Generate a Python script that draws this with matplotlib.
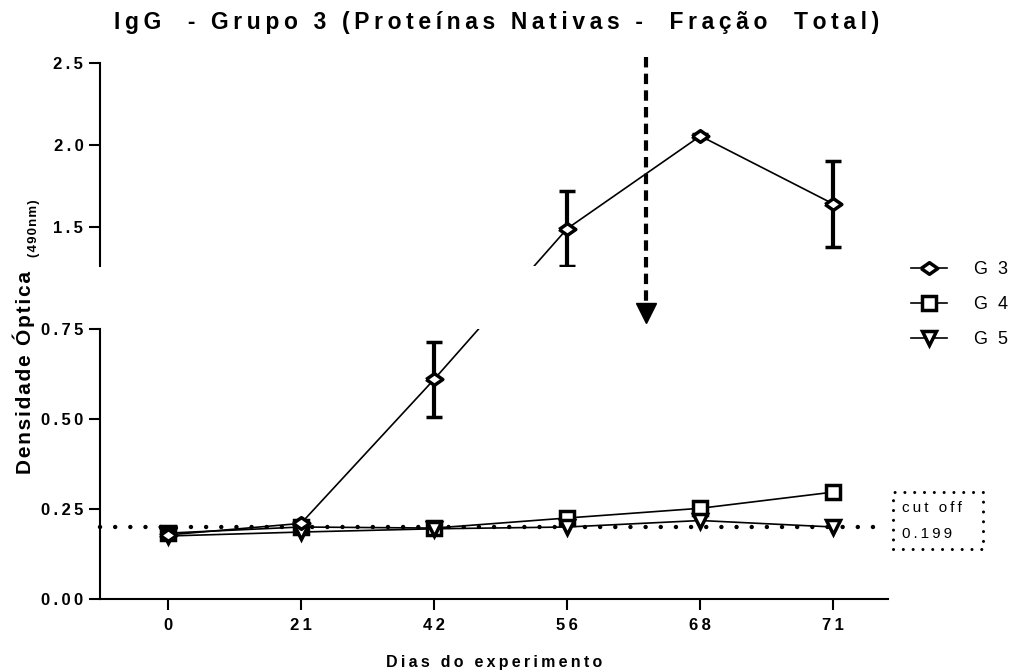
import numpy as np
import matplotlib
matplotlib.use("Agg")
import matplotlib.pyplot as plt
from matplotlib.ticker import FixedLocator, FuncFormatter
from matplotlib.lines import Line2D
from matplotlib.patches import Rectangle

plt.rcParams['font.family'] = ['Liberation Sans', 'DejaVu Sans']

# data
days = ['0', '21', '42', '56', '68', '71']
g3 = [0.178, 0.21, 0.61, 1.49, 2.055, 1.64]
g3_err = [0.0, 0.0, 0.105, 0.23, 0.01, 0.26]
g4 = [0.183, 0.20, 0.197, 0.225, 0.252, 0.297]
g5 = [0.175, 0.186, 0.195, 0.20, 0.218, 0.20]
cutoff = 0.199
arrow_x = 3.59   # between day 56 and day 68

THIN = '\u2009'
HAIR = '\u200a'


def sp(s, sep=THIN):
    # fake letter spacing
    return sep.join(s)


fig = plt.figure(figsize=(10.18, 6.71), dpi=100)
W, H = 1018, 671

def px_axes(x0, x1, ytop, ybot):
    return fig.add_axes([x0 / W, (H - ybot) / H, (x1 - x0) / W, (ybot - ytop) / H])

ax_hi = px_axes(100, 888, 63, 266)
ax_lo = px_axes(100, 888, 329, 599)

x = np.arange(len(days))
xlim = (-0.51, 5.41)
for ax in (ax_hi, ax_lo):
    ax.set_xlim(*xlim)
    ax.patch.set_alpha(0)
    for s in ('top', 'right'):
        ax.spines[s].set_visible(False)
    ax.spines['left'].set_linewidth(1.5)
    ax.tick_params(axis='y', direction='out', length=8, width=1.5, pad=4,
                   labelsize=12)

ax_hi.set_ylim(1.262, 2.5)
ax_lo.set_ylim(0, 0.75)
ax_hi.spines['bottom'].set_visible(False)
ax_hi.tick_params(axis='x', bottom=False, labelbottom=False)
ax_lo.spines['bottom'].set_linewidth(1.5)

ax_hi.yaxis.set_major_locator(FixedLocator([1.5, 2.0, 2.5]))
ax_lo.yaxis.set_major_locator(FixedLocator([0, 0.25, 0.5, 0.75]))
ax_hi.yaxis.set_major_formatter(FuncFormatter(lambda v, p: sp(f"{v:.1f}")))
ax_lo.yaxis.set_major_formatter(FuncFormatter(lambda v, p: sp(f"{v:.2f}")))
for ax in (ax_hi, ax_lo):
    for lab in ax.get_yticklabels():
        lab.set_fontweight('bold')

ax_lo.set_xticks(x)
ax_lo.set_xticklabels([sp(d) for d in days], fontweight='bold', fontsize=12)
ax_lo.tick_params(axis='x', direction='out', length=8, width=1.5, pad=6)

# cut off line
ax_lo.plot([xlim[0], 5.39], [cutoff, cutoff], color='black', lw=3.2,
           ls=(0, (0.01, 3.4)), dash_capstyle='round', zorder=1, clip_on=False)

mk = dict(color='black', lw=1.2, mfc='white', mew=2.5)
eb = dict(ecolor='black', elinewidth=3, capsize=6, capthick=3)
diamond = [(-1, 0), (0, 0.7), (1, 0), (0, -0.7), (-1, 0)]

# G4 / G5 in lower axis
ax_lo.plot(x, g4, marker='s', ms=10, **mk, zorder=3)
ax_lo.plot(x, g5, marker='v', ms=10, **mk, zorder=3)

# G3: split across the break, straight in screen space
lo_idx = [0, 1, 2]
hi_idx = [3, 4, 5]
p_lo = ax_lo.transData.transform((x[2], g3[2]))
p_hi = ax_hi.transData.transform((x[3], g3[3]))
hi_in_lo = ax_lo.transData.inverted().transform(p_hi)
lo_in_hi = ax_hi.transData.inverted().transform(p_lo)

ax_lo.plot([x[2], hi_in_lo[0]], [g3[2], hi_in_lo[1]], color='black', lw=1.2, zorder=2)
ax_hi.plot([lo_in_hi[0], x[3]], [lo_in_hi[1], g3[3]], color='black', lw=1.2, zorder=2)

ax_lo.errorbar(x[lo_idx], [g3[i] for i in lo_idx], yerr=[g3_err[i] for i in lo_idx],
               marker=diamond, ms=12, **mk, **eb, zorder=4)
ax_hi.errorbar(x[hi_idx], [g3[i] for i in hi_idx], yerr=[g3_err[i] for i in hi_idx],
               marker=diamond, ms=12, **mk, **eb, zorder=4)

# dashed arrow
ax_hi.plot([arrow_x, arrow_x], [2.537, 1.04], color='black', lw=3,
           ls=(0, (2.5, 1.5)), clip_on=False, zorder=5)
ax_hi.plot([arrow_x], [0.976], marker='v', ms=15, color='black', clip_on=False, zorder=5)

# cut off box
fig.patches.append(Rectangle((893 / W, 1 - 549 / H), 90 / W, 57 / H, transform=fig.transFigure,
                             fill=False, ec='black', lw=2.2, ls=(0, (0.01, 3.2)),
                             capstyle='round'))
fig.text(902 / W, 1 - 508 / H, sp("cut off"), ha='left', va='center', fontsize=11)
fig.text(902 / W, 1 - 534 / H, sp("0.199"), ha='left', va='center', fontsize=11)

# legend
handles = [Line2D([], [], marker=diamond, ms=12, **mk),
           Line2D([], [], marker='s', ms=10, **mk),
           Line2D([], [], marker='v', ms=10, **mk)]
fig.legend(handles, ['G  3', 'G  4', 'G  5'], loc='upper left',
           bbox_to_anchor=(911 / W, 1 - 261 / H), frameon=False, fontsize=13,
           handlelength=2.0, labelspacing=1.0, handletextpad=1.5,
           borderaxespad=0, borderpad=0)

# texts
fig.text(497 / W, 1 - 23 / H, sp("IgG  - Grupo 3 (Proteínas Nativas -  Fração  Total)"),
         ha='center', va='center', fontsize=16.5, fontweight='bold')
fig.text(494 / W, 1 - 662 / H, sp("Dias do experimento"),
         ha='center', va='center', fontsize=11.5, fontweight='bold')
fig.text(24 / W, 1 - 372 / H, sp("Densidade Óptica", HAIR), rotation=90,
         ha='center', va='center', fontsize=15, fontweight='bold')
fig.text(34 / W, 1 - 228 / H, sp("(490nm)", HAIR), rotation=90,
         ha='center', va='center', fontsize=9.5, fontweight='bold')

fig.savefig("out.png", dpi=100)
